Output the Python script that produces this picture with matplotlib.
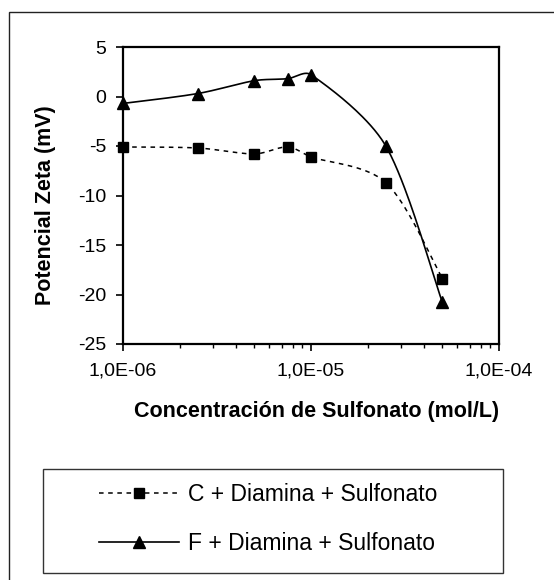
import numpy as np
import matplotlib
matplotlib.use('Agg')
import matplotlib.pyplot as plt
from matplotlib.patches import Rectangle
from matplotlib.ticker import FixedLocator, LogLocator, NullFormatter

# datos
concentracion = [1.0e-6, 2.5e-6, 5.0e-6, 7.5e-6, 1.0e-5, 2.5e-5, 5.0e-5]
zeta_c = [-5.1, -5.2, -5.8, -5.1, -6.1, -8.7, -18.4]
zeta_f = [-0.7, 0.3, 1.6, 1.8, 2.2, -5.0, -20.8]
label_c = 'C + Diamina + Sulfonato'
label_f = 'F + Diamina + Sulfonato'
xticks = [1e-6, 1e-5, 1e-4]
xtick_labels = ['1,0E-06', '1,0E-05', '1,0E-04']
yticks = [5, 0, -5, -10, -15, -20, -25]

plt.rcParams['font.family'] = ['Liberation Sans', 'DejaVu Sans']

W, H = 554, 580
fig = plt.figure(figsize=(W / 100, H / 100), dpi=100)

# marco exterior (se sale por la derecha y por abajo)
fig.patches.append(Rectangle((9 / W, -0.1), 1.2, 1 - 12 / H + 0.1, transform=fig.transFigure,
                             fill=False, edgecolor='#222222', linewidth=1.0))

ax = fig.add_axes([123 / W, 1 - 344 / H, 376 / W, 297 / H])
ax.set_xscale('log')
ax.set_xlim(1e-6, 1e-4)
ax.set_ylim(-25, 5)


# suavizado tipo Excel (bezier en coordenadas de pantalla, con tiradores limitados)
def suavizar(xs, ys, n=40):
    pts = ax.transData.transform(np.column_stack([xs, ys]))
    out = []
    for i in range(len(pts) - 1):
        p0 = pts[i - 1] if i > 0 else pts[i]
        p1 = pts[i]
        p2 = pts[i + 1]
        p3 = pts[i + 2] if i + 2 < len(pts) else pts[i + 1]
        seg_len = np.hypot(*(p2 - p1))
        d1 = (p2 - p0) / 6
        d2 = (p3 - p1) / 6
        l1, l2 = np.hypot(*d1), np.hypot(*d2)
        if l1 > seg_len / 3:
            d1 = d1 * (seg_len / 3) / l1
        if l2 > seg_len / 3:
            d2 = d2 * (seg_len / 3) / l2
        c1 = p1 + d1
        c2 = p2 - d2
        t = np.linspace(0, 1, n)[:, None]
        seg = (1 - t) ** 3 * p1 + 3 * (1 - t) ** 2 * t * c1 + 3 * (1 - t) * t ** 2 * c2 + t ** 3 * p2
        out.append(seg if i == 0 else seg[1:])
    res = ax.transData.inverted().transform(np.vstack(out))
    return res[:, 0], res[:, 1]


xc, yc = suavizar(concentracion, zeta_c)
xf, yf = suavizar(concentracion, zeta_f)
ax.plot(xc, yc, color='black', linewidth=1.1, linestyle=(0, (3.0, 3.0)), clip_on=False)
ax.plot(xf, yf, color='black', linewidth=1.2, clip_on=False)
ax.plot(concentracion, zeta_c, linestyle='none', marker='s', markersize=7.5, color='black', clip_on=False)
ax.plot(concentracion, zeta_f, linestyle='none', marker='^', markersize=8.5, color='black', clip_on=False)

for s in ax.spines.values():
    s.set_linewidth(1.6)

ax.xaxis.set_major_locator(FixedLocator(xticks))
ax.set_xticklabels(xtick_labels)
ax.xaxis.set_minor_locator(LogLocator(base=10, subs=np.arange(2, 10)))
ax.xaxis.set_minor_formatter(NullFormatter())
ax.set_yticks(yticks)
ax.set_yticklabels([str(v) for v in yticks])
ax.tick_params(axis='x', which='major', direction='out', length=5, width=1.2, labelsize=14, pad=8)
ax.tick_params(axis='x', which='minor', direction='out', length=3, width=1.0)
ax.tick_params(axis='y', which='major', direction='out', length=5, width=1.2, labelsize=14, pad=7)

ax.set_xlabel('Concentración de Sulfonato (mol/L)', fontsize=15.5, fontweight='bold')
ax.xaxis.set_label_coords((317 - 123) / 376, (344 - 412) / 297)
ax.xaxis.label.set_va('center')
ax.set_ylabel('Potencial Zeta (mV)', fontsize=15.5, fontweight='bold')
ax.yaxis.set_label_coords((45 - 123) / 376, (344 - 205) / 297)
ax.yaxis.label.set_va('center')

# leyenda con caja propia
fig.patches.append(Rectangle((43 / W, 1 - 573 / H), 460 / W, 104 / H, transform=fig.transFigure,
                             fill=False, edgecolor='#333333', linewidth=1.0))
h_c, = ax.plot([], [], color='black', linewidth=1.1, linestyle=(0, (3.0, 3.0)), marker='s', markersize=7.5)
h_f, = ax.plot([], [], color='black', linewidth=1.2, marker='^', markersize=8.5)
fig.legend([h_c, h_f], [label_c, label_f], loc='center left', bbox_to_anchor=(99 / W, 1 - 519 / H),
           frameon=False, fontsize=16.5, handlelength=3.5, handletextpad=0.4, labelspacing=1.1,
           borderpad=0, borderaxespad=0, markerscale=1.0)

fig.savefig('out.png', dpi=100)
